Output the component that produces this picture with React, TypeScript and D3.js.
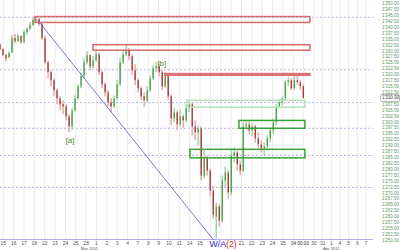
import React from 'react';
import * as d3 from 'd3';

const dayLabels = ["15","16","17","18","22","23","24","25","28","1","2","3","4","7","8","9","10","11","14","15","16","17","18","21","22","23","24","25","28","29","30","31","1","4","5","6","7"];
const hiddenLabelIdx = [20, 21, 22, 28, 29];
const monthLabels = [{ idx: 9, text: "Mar 2011" }, { idx: 32, text: "Apr 2011" }];
const lastTimeLabel = "04:00:00";

const opens = [1333.05,1330.93,1328.39,1327.54,1329.66,1335.59,1334.32,1336.44,1333.90,1338.14,1339.41,1341.10,1343.22,1343.64,1341.53,1335.59,1325.42,1321.19,1317.80,1313.56,1310.17,1307.63,1306.78,1302.54,1298.31,1305.08,1310.17,1315.25,1319.49,1325.42,1328.39,1323.73,1326.27,1328.81,1321.19,1316.10,1312.71,1308.47,1306.78,1310.17,1316.10,1325.42,1328.81,1330.51,1327.97,1322.03,1317.80,1314.41,1311.02,1309.32,1313.56,1318.64,1322.88,1323.73,1321.19,1315.25,1319.49,1311.02,1301.69,1304.24,1299.15,1302.54,1300.85,1305.93,1307.63,1298.31,1295.76,1297.46,1277.54,1284.75,1279.66,1271.19,1260.17,1264.41,1258.47,1275.42,1278.81,1270.34,1286.02,1287.29,1282.20,1279.66,1298.31,1299.15,1296.61,1298.31,1293.22,1290.68,1288.98,1289.83,1293.22,1296.61,1300.00,1306.78,1308.47,1310.17,1316.95,1317.80,1314.41,1317.80,1316.95,1315.25];
const highs = [1333.47,1331.36,1329.24,1330.08,1336.86,1337.29,1337.29,1336.86,1338.98,1340.25,1342.37,1344.07,1344.92,1344.07,1342.37,1336.44,1326.27,1322.03,1318.64,1314.41,1311.02,1309.32,1307.63,1303.39,1305.93,1311.44,1316.10,1321.19,1327.12,1330.08,1328.81,1327.97,1330.51,1329.66,1322.03,1316.95,1313.56,1310.17,1311.44,1317.80,1327.12,1330.51,1332.63,1331.36,1328.81,1324.58,1318.64,1315.25,1312.71,1315.25,1319.92,1324.15,1325.42,1325.00,1322.03,1321.19,1320.76,1311.86,1305.93,1305.08,1305.08,1303.39,1307.63,1309.32,1308.47,1300.85,1298.73,1298.31,1288.14,1286.02,1280.51,1273.31,1266.10,1265.68,1277.54,1281.36,1279.66,1288.14,1289.41,1288.14,1283.90,1300.00,1300.85,1300.42,1299.58,1299.15,1295.76,1292.37,1291.53,1294.49,1297.46,1301.69,1307.63,1309.75,1311.02,1317.80,1319.07,1318.64,1319.49,1319.92,1317.80,1316.10];
const lows = [1330.08,1327.97,1325.85,1327.12,1329.24,1333.47,1333.90,1333.05,1333.47,1336.86,1338.98,1340.68,1341.95,1340.68,1334.75,1324.58,1318.64,1315.25,1311.02,1307.63,1305.08,1303.39,1300.85,1295.76,1296.61,1304.24,1309.32,1314.41,1318.64,1324.58,1322.03,1322.88,1325.42,1319.92,1314.41,1311.02,1306.78,1304.24,1305.93,1309.32,1315.25,1324.58,1327.97,1326.27,1319.92,1315.68,1312.71,1309.32,1306.36,1308.47,1312.71,1317.80,1321.19,1319.49,1313.56,1314.41,1309.32,1298.73,1300.00,1296.61,1298.31,1297.46,1300.00,1304.24,1294.49,1292.37,1290.25,1275.42,1276.27,1277.54,1268.64,1259.32,1250.85,1255.93,1257.63,1272.88,1267.80,1269.07,1283.05,1279.66,1277.54,1278.81,1297.46,1294.92,1294.07,1291.53,1288.98,1287.29,1286.02,1288.14,1291.53,1294.92,1298.73,1305.93,1307.20,1309.32,1315.25,1313.56,1313.56,1315.68,1313.56,1310.17];
const closes = [1330.93,1328.39,1327.12,1329.24,1335.59,1334.32,1336.44,1333.90,1338.14,1339.41,1341.10,1343.22,1343.64,1341.53,1335.59,1325.42,1321.19,1317.80,1313.56,1310.17,1307.63,1306.78,1302.54,1298.31,1305.08,1310.17,1315.25,1319.49,1325.42,1328.39,1323.73,1326.27,1328.81,1321.19,1316.10,1312.71,1308.47,1306.78,1310.17,1316.10,1325.42,1328.81,1330.51,1327.97,1322.03,1317.80,1314.41,1311.02,1309.32,1313.56,1318.64,1322.88,1323.73,1321.19,1315.25,1319.49,1311.02,1301.69,1304.24,1299.15,1302.54,1300.85,1305.93,1307.63,1298.31,1295.76,1297.46,1277.54,1284.75,1279.66,1271.19,1261.02,1264.41,1258.47,1275.42,1278.81,1270.34,1286.02,1287.29,1282.20,1279.66,1298.31,1299.15,1296.61,1298.31,1293.22,1290.68,1288.98,1289.83,1293.22,1296.61,1300.00,1306.78,1308.47,1310.17,1316.95,1317.80,1314.41,1317.80,1316.95,1315.25,1310.30];

// time of first bar and bar step, in trading-day units
const barStart = -0.32;
const barStep = 0.29;

// zones: [startDay, endDay, topPrice, bottomPrice]
const resistanceZones = [
  [3.06, 29.6, 1344.7, 1342.2],
  [8.66, 29.6, 1332.8, 1330.5],
  [15.61, 29.6, 1320.6, 1319.9],
];
const supportZonesPale = [
  [17.73, 29.12, 1309.3, 1306.4],
];
const supportZones = [
  [22.75, 29.12, 1300.8, 1297.5],
  [18.02, 29.12, 1288.6, 1285.0],
];
const dottedLevels = [1344.4, 1322.2, 1308.35, 1297.5, 1286.0, 1272.5];
const waveLine = [[3.32, 1343.2], [20.3, 1250.3]];
const lastPrice = 1310.30;
const waveLabels = [{ day: 6.45, price: 1292.0, text: "[a]" }, { day: 15.3, price: 1324.6, text: "[b]" }];
const lastBarDay = 28.65;
const waveEndLabelDay = 19.9;

const FONT = "'Liberation Sans', Arial, sans-serif";

export default function App() {
  const x = d3.scaleLinear().domain([0, 30, 36]).range([3.3, 314, 366]);
  const y = d3.scaleLinear().domain([1250, 1350]).range([240.7, 4]);
  const fmt = (v: number) => d3.format(",.2f")(v).replace(/,/g, "'");
  const yTicks = d3.range(1250, 1350.001, 2.5);
  const plotRight = 373;
  const axisY = 239.5;

  const candles = opens.map((o, i) => ({
    t: barStart + i * barStep,
    o, h: highs[i], l: lows[i], c: closes[i],
  }));

  const zoneRect = (z: number[], stroke: string, key: string) => (
    <rect key={key} x={x(z[0])} y={y(z[2])} width={x(z[1]) - x(z[0])}
      height={Math.max(1, y(z[3]) - y(z[2]))} fill="none" stroke={stroke} strokeWidth={1.5} />
  );

  const line = d3.line<number[]>().x(d => x(d[0])).y(d => y(d[1]));

  return (
    <svg width={400} height={250} style={{ position: 'absolute', left: 0, top: 0, background: '#fff' }}
      fontFamily={FONT}>
      <rect x={0} y={0} width={400} height={250} fill="#fff" />
      {dayLabels.map((_, i) => (
        <line key={'g' + i} x1={x(i)} x2={x(i)} y1={0} y2={axisY} stroke="#ebebeb" strokeWidth={1} />
      ))}
      {dottedLevels.map((p, i) => (
        <line key={'d' + i} x1={0} x2={plotRight} y1={y(p)} y2={y(p)} stroke="#b4b4e6" strokeWidth={1} strokeDasharray="2,2" />
      ))}
      <line x1={0} x2={plotRight} y1={axisY} y2={axisY} stroke="#b0b0ee" strokeWidth={1} />

      {candles.map((d, i) => {
        const up = d.c >= d.o;
        const cx = x(d.t);
        return (
          <g key={'c' + i}>
            <line x1={cx} x2={cx} y1={y(d.h)} y2={y(d.l)} stroke={up ? '#a8d6a8' : '#e4b0b0'} strokeWidth={1.6} />
            <rect x={cx - 0.55} y={y(Math.max(d.o, d.c))} width={1.1}
              height={Math.max(0.8, Math.abs(y(d.o) - y(d.c)))} fill={up ? '#3a963a' : '#962424'} />
          </g>
        );
      })}

      {resistanceZones.map((z, i) => zoneRect(z, '#d9686c', 'r' + i))}
      {supportZonesPale.map((z, i) => zoneRect(z, '#b9e0b9', 'p' + i))}
      {supportZones.map((z, i) => zoneRect(z, '#36a336', 's' + i))}

      <path d={line(waveLine) || ''} fill="none" stroke="#6a6ad8" strokeWidth={0.9} />

      {waveLabels.map((w, i) => (
        <text key={'w' + i} x={x(w.day)} y={y(w.price)} fontSize={8} fill={i === 0 ? '#3e8a3e' : '#5d7d34'}
          textAnchor="middle" dominantBaseline="middle">{w.text}</text>
      ))}

      {dayLabels.map((lab, i) => hiddenLabelIdx.includes(i) ? null : (
        <text key={'x' + i} x={x(i)} y={245} fontSize={5} fill="#555" textAnchor="middle">{lab}</text>
      ))}
      {monthLabels.map((m, i) => (
        <text key={'m' + i} x={x(m.idx) - (i === 0 ? 7 : 0)} y={250} fontSize={4.2} fill="#555" textAnchor="middle">{m.text}</text>
      ))}
      <text x={x(lastBarDay)} y={245} fontSize={4.6} fill="#333" textAnchor="middle">{lastTimeLabel}</text>

      <text x={x(waveEndLabelDay)} y={246.5} fontSize={8.8}>
        <tspan fill="#2a2ae0">W/A</tspan><tspan fill="#e02a2a">(2)</tspan>
      </text>

      {yTicks.map((v, i) => (
        <text key={'y' + i} x={382} y={y(v)} fontSize={4.5} fill="#5a9a5a" dominantBaseline="middle">{fmt(v)}</text>
      ))}
      <rect x={380.5} y={y(lastPrice) - 3.5} width={19} height={7} fill="#fff" stroke="#888" strokeWidth={0.6} rx={1} />
      <text x={382} y={y(lastPrice)} fontSize={4.5} fill="#333" dominantBaseline="middle">{fmt(lastPrice)}</text>
      <text x={379} y={y(dottedLevels[0]) + 3} fontSize={4.5} fill="#999" textAnchor="middle" dominantBaseline="middle">‹</text>
    </svg>
  );
}
